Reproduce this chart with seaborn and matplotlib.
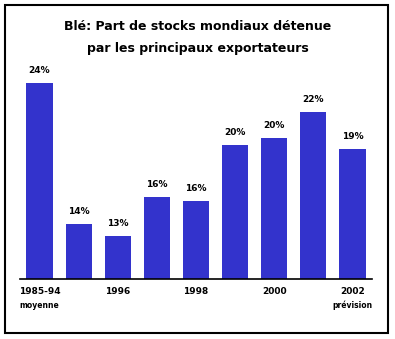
import matplotlib
matplotlib.use("Agg")
import matplotlib.pyplot as plt
import seaborn as sns
import pandas as pd
from matplotlib.patches import Rectangle
from matplotlib.transforms import blended_transform_factory

categories = ["1985-94", "1995", "1996", "1997", "1998", "1999", "2000", "2001", "2002"]
values = [23.9, 13.9, 13.05, 15.8, 15.5, 19.5, 20.0, 21.85, 19.2]
value_labels = ["24%", "14%", "13%", "16%", "16%", "20%", "20%", "22%", "19%"]
shown_tick_labels = ["1985-94", "1996", "1998", "2000", "2002"]
sub_labels = {"1985-94": "moyenne", "2002": "prévision"}
title = "Blé: Part de stocks mondiaux détenue\npar les principaux exportateurs"

sns.set_style("white")
plt.rcParams["font.family"] = ["DejaVu Sans"]
plt.rcParams["text.color"] = "black"
plt.rcParams["xtick.color"] = "black"
plt.rcParams["xtick.labelcolor"] = "black"

W, H = 395, 339
fig = plt.figure(figsize=(W / 100, H / 100), dpi=100)
ax_left, ax_right, ax_bottom, ax_top = 20, 372, 279, 60
ax = fig.add_axes([ax_left / W, (H - ax_bottom) / H, (ax_right - ax_left) / W, (ax_bottom - ax_top) / H])

df = pd.DataFrame({"cat": categories, "val": values})
color = "#3333CC"
sns.barplot(data=df, x="cat", y="val", order=categories, color=color, saturation=1,
            width=0.67, linewidth=0, ax=ax)

px_per_unit = 14.1
ymin = 10
ax.set_ylim(ymin, ymin + (ax_bottom - ax_top) / px_per_unit)
ax.set_xlim(-0.5, len(categories) - 0.5)

for i, (v, lab) in enumerate(zip(values, value_labels)):
    ax.annotate(lab, (i, v), xytext=(0, 6), textcoords="offset points",
                ha="center", va="bottom", fontsize=6.5, fontweight="bold", color="black")

for s in ["top", "right", "left"]:
    ax.spines[s].set_visible(False)
ax.spines["bottom"].set_linewidth(1.2)
ax.spines["bottom"].set_color("black")
ax.set_yticks([])
ax.set_xlabel("")
ax.set_ylabel("")

major = [-0.5, 1.5, 3.5, 5.5, 7.5]
ax.set_xticks(major)
ax.set_xticklabels([""] * len(major))
ax.tick_params(axis="x", which="major", direction="inout", length=6, width=1.2, color="black")

minor_pos = [categories.index(c) for c in shown_tick_labels]
ax.set_xticks(minor_pos, minor=True)
ax.set_xticklabels(shown_tick_labels, minor=True, fontsize=6.5, fontweight="bold")
ax.tick_params(axis="x", which="minor", length=0, pad=6, labelcolor="black")

trans = blended_transform_factory(ax.transData, ax.transAxes)
for c, sub in sub_labels.items():
    ax.text(categories.index(c), -0.1, sub, transform=trans, ha="center", va="top",
            fontsize=5.5, fontweight="bold", color="black")

fig.text(0.5, 1 - 37.5 / H, title, ha="center", va="center", fontsize=9,
         fontweight="bold", linespacing=1.85, color="black")

fig.patches.append(Rectangle((5 / W, 6 / H), 383 / W, 328 / H, transform=fig.transFigure,
                             fill=False, edgecolor="black", linewidth=1.5))

fig.savefig("out.png", dpi=100)
